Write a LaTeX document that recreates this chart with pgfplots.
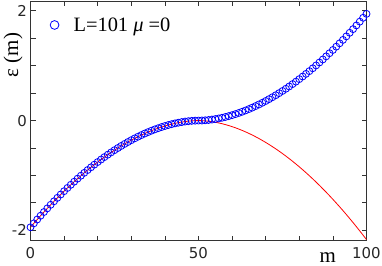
\documentclass[border=0pt]{standalone}
\usepackage{pgfplots}
\pgfplotsset{compat=1.18}
\usepackage{pgfplotstable}
\usepackage{fontspec}
\setmainfont{Liberation Serif}
\newfontfamily\tickfont{DejaVu Sans}
\pgfplotstableread{
m b r
0 -1.9450 -1.9450
1 -1.8736 -1.8736
2 -1.8035 -1.8035
3 -1.7346 -1.7346
4 -1.6670 -1.6670
5 -1.6005 -1.6005
6 -1.5354 -1.5354
7 -1.4714 -1.4714
8 -1.4087 -1.4087
9 -1.3473 -1.3473
10 -1.2872 -1.2872
11 -1.2283 -1.2283
12 -1.1706 -1.1706
13 -1.1143 -1.1143
14 -1.0592 -1.0592
15 -1.0054 -1.0054
16 -0.9529 -0.9529
17 -0.9017 -0.9017
18 -0.8518 -0.8518
19 -0.8032 -0.8032
20 -0.7560 -0.7560
21 -0.7100 -0.7100
22 -0.6654 -0.6654
23 -0.6221 -0.6221
24 -0.5801 -0.5801
25 -0.5395 -0.5395
26 -0.5003 -0.5003
27 -0.4624 -0.4624
28 -0.4259 -0.4259
29 -0.3908 -0.3908
30 -0.3570 -0.3570
31 -0.3247 -0.3247
32 -0.2938 -0.2938
33 -0.2643 -0.2643
34 -0.2363 -0.2363
35 -0.2097 -0.2097
36 -0.1846 -0.1846
37 -0.1609 -0.1609
38 -0.1388 -0.1388
39 -0.1181 -0.1181
40 -0.0990 -0.0990
41 -0.0815 -0.0815
42 -0.0655 -0.0655
43 -0.0512 -0.0512
44 -0.0385 -0.0385
45 -0.0275 -0.0275
46 -0.0182 -0.0182
47 -0.0107 -0.0107
48 -0.0050 -0.0050
49 -0.0014 -0.0014
50 0 0
51 0.0014 -0.0016
52 0.0050 -0.0056
53 0.0107 -0.0119
54 0.0182 -0.0203
55 0.0275 -0.0307
56 0.0385 -0.0429
57 0.0512 -0.0571
58 0.0655 -0.0731
59 0.0815 -0.0909
60 0.0990 -0.1105
61 0.1181 -0.1318
62 0.1388 -0.1548
63 0.1609 -0.1795
64 0.1846 -0.2059
65 0.2097 -0.2340
66 0.2363 -0.2636
67 0.2643 -0.2949
68 0.2938 -0.3278
69 0.3247 -0.3623
70 0.3570 -0.3983
71 0.3908 -0.4360
72 0.4259 -0.4752
73 0.4624 -0.5159
74 0.5003 -0.5582
75 0.5395 -0.6019
76 0.5801 -0.6472
77 0.6221 -0.6940
78 0.6654 -0.7423
79 0.7100 -0.7921
80 0.7560 -0.8434
81 0.8032 -0.8962
82 0.8518 -0.9504
83 0.9017 -1.0060
84 0.9529 -1.0632
85 1.0054 -1.1217
86 1.0592 -1.1817
87 1.1143 -1.2432
88 1.1706 -1.3061
89 1.2283 -1.3703
90 1.2872 -1.4361
91 1.3473 -1.5032
92 1.4087 -1.5717
93 1.4714 -1.6416
94 1.5354 -1.7130
95 1.6005 -1.7857
96 1.6670 -1.8598
97 1.7346 -1.9353
98 1.8035 -2.0121
99 1.8736 -2.0904
100 1.9450 -2.1700
}\data
\begin{document}
\begin{tikzpicture}
\begin{axis}[
  at={(0,0)}, anchor=south west,
  scale only axis, width=336bp, height=239.7bp,
  xmin=0, xmax=100, ymin=-2.19, ymax=2.18,
  xtick={0,50,100}, xticklabels={0,50,100},
  minor xtick={10,20,30,40,60,70,80,90},
  ytick={-2,0,2}, yticklabels={-2,0,2},
  minor ytick={-1.5,-1,-0.5,0.5,1,1.5},
  tick align=inside, major tick length=5bp, minor tick length=5bp,
  tick style={black!80, line width=0.8pt},
  axis line style={black!80, line width=0.9pt},
  ticklabel style={font=\tickfont\fontsize{15}{15}\selectfont, text=black!85},
  xticklabel style={inner sep=0pt, anchor=north, yshift=-7bp},
  yticklabel style={inner sep=0pt, anchor=east, xshift=-3.5bp},
  xlabel={m}, ylabel={ε\ (m)},
  label style={font=\fontsize{21}{21}\selectfont, inner sep=0pt},
  x label style={at={(axis description cs:0.885,-0.072)}, anchor=center},
  y label style={at={(axis description cs:-0.052,0.775)}, anchor=center},
  legend style={at={(axis description cs:0.058,0.9)}, anchor=west, draw=none, fill=none,
    inner sep=0pt, font=\fontsize{20.5}{20.5}\selectfont},
  legend cell align=left,
  legend image code/.code={\path[draw=none] (0bp,0bp) (17bp,0bp);
    \draw[#1, mark size=4.4pt] plot coordinates {(0bp,0bp)};},
]
\addplot[red, line width=0.8pt, forget plot] table[x=m, y=r] {\data};
\addplot[only marks, mark=o, mark size=3.5pt, blue, mark options={line width=0.8pt}] table[x=m, y=b] {\data};
\addlegendentry{L=101 \textit{μ} =0}
\end{axis}
\pgfresetboundingbox
\path (-30.5bp,-25.3bp) rectangle (351.5bp,240.7bp);
\end{tikzpicture}
\end{document}
